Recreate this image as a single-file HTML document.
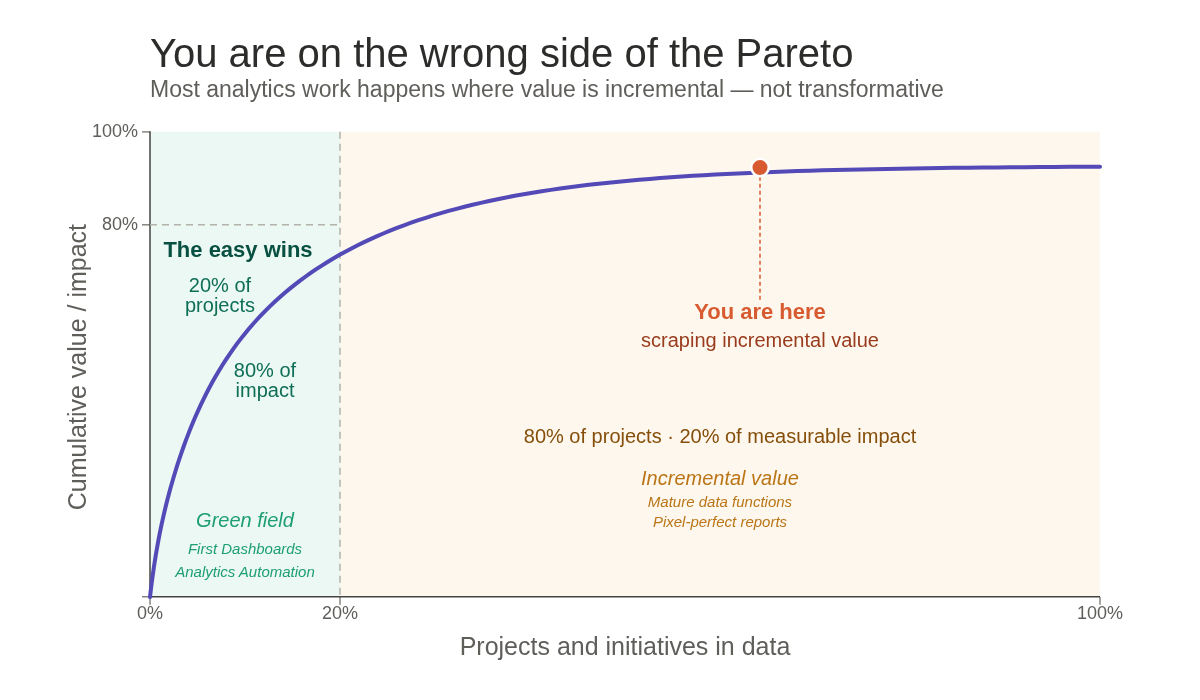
<!DOCTYPE html>
<html><head><meta charset="utf-8"><title>Pareto</title>
<style>
html,body{margin:0;padding:0;background:#fff;}
svg{display:block;font-family:"Liberation Sans",sans-serif;}
</style></head><body>
<svg width="1200" height="700" viewBox="0 0 1200 700">
<rect width="1200" height="700" fill="#ffffff"/>
<text x="150" y="67" font-size="40" fill="#2C2C2A">You are on the wrong side of the Pareto</text>
<text x="150" y="97" font-size="23" fill="#5F5E5A">Most analytics work happens where value is incremental — not transformative</text>
<rect x="150" y="131.75" width="190" height="465.25" fill="#ebf8f3"/>
<rect x="340" y="131.75" width="760" height="465.25" fill="#fef7ed"/>
<g stroke="#7d7c77" stroke-width="1.4" fill="none">
<line x1="142" y1="131.9" x2="150" y2="131.9"/>
<line x1="142" y1="224.8" x2="150" y2="224.8"/>
<line x1="142" y1="596.75" x2="150" y2="596.75"/>
<line x1="150" y1="597" x2="150" y2="604.7"/>
<line x1="340" y1="597" x2="340" y2="604.7"/>
<line x1="1100" y1="597" x2="1100" y2="604.7"/>
</g>
<line x1="150" y1="131.2" x2="150" y2="597.5" stroke="#444441" stroke-width="1.5"/>
<line x1="340" y1="131.75" x2="340" y2="596" stroke="#B4B2A9" stroke-width="1.5" stroke-dasharray="7 5"/>
<line x1="149.2" y1="596.75" x2="1100" y2="596.75" stroke="#444441" stroke-width="1.5"/>
<line x1="150" y1="224.8" x2="340" y2="224.8" stroke="#B4B2A9" stroke-width="1.5" stroke-dasharray="7 5"/>
<g font-size="18" fill="#5F5E5A">
<text x="138" y="137.3" text-anchor="end">100%</text>
<text x="138" y="230.3" text-anchor="end">80%</text>
<text x="150" y="618.5" text-anchor="middle">0%</text>
<text x="340" y="618.5" text-anchor="middle">20%</text>
<text x="1100" y="618.5" text-anchor="middle">100%</text>
</g>
<text x="625" y="655" font-size="25" fill="#5f5e5a" text-anchor="middle">Projects and initiatives in data</text>
<text transform="translate(85.9,367.1) rotate(-90)" font-size="25" fill="#5f5e5a" text-anchor="middle">Cumulative value / impact</text>
<path d="M150.00,597.00 L150.01,596.95 L150.03,596.73 L150.08,596.30 L150.16,595.60 L150.28,594.62 L150.43,593.33 L150.62,591.73 L150.85,589.80 L151.13,587.54 L151.45,584.96 L151.83,582.06 L152.25,578.86 L152.73,575.37 L153.26,571.60 L153.84,567.57 L154.49,563.31 L155.19,558.84 L155.95,554.18 L156.78,549.34 L157.67,544.35 L158.62,539.21 L159.64,533.96 L160.72,528.60 L161.87,523.14 L163.10,517.60 L164.39,511.97 L165.75,506.28 L167.19,500.52 L168.70,494.70 L170.28,488.83 L171.95,482.92 L173.68,476.96 L175.50,470.97 L177.39,464.94 L179.37,458.90 L181.42,452.83 L183.56,446.76 L185.77,440.69 L188.07,434.63 L190.46,428.58 L192.93,422.56 L195.49,416.56 L198.13,410.60 L200.86,404.69 L203.68,398.82 L206.58,393.01 L209.58,387.26 L212.67,381.58 L215.85,375.97 L219.12,370.43 L222.48,364.97 L225.94,359.58 L229.49,354.28 L233.14,349.06 L236.89,343.93 L240.73,338.88 L244.66,333.91 L248.70,329.03 L252.83,324.23 L257.06,319.53 L261.40,314.90 L265.83,310.36 L270.36,305.90 L275.00,301.53 L279.74,297.24 L284.58,293.03 L289.53,288.90 L294.58,284.85 L299.73,280.88 L304.99,276.99 L310.36,273.18 L315.83,269.45 L321.42,265.80 L327.11,262.22 L332.90,258.73 L338.81,255.30 L344.83,251.96 L350.96,248.69 L357.20,245.50 L363.55,242.39 L370.01,239.35 L376.58,236.39 L383.27,233.51 L390.07,230.70 L396.99,227.97 L404.02,225.31 L411.17,222.73 L418.43,220.23 L425.81,217.80 L433.31,215.44 L440.92,213.16 L448.65,210.95 L456.50,208.81 L464.47,206.75 L472.56,204.76 L480.77,202.83 L489.10,200.98 L497.55,199.19 L506.12,197.48 L514.82,195.82 L523.64,194.24 L532.58,192.71 L541.64,191.25 L550.83,189.86 L560.14,188.52 L569.58,187.24 L579.14,186.01 L588.83,184.84 L598.64,183.73 L608.58,182.67 L618.65,181.65 L628.85,180.69 L639.18,179.78 L649.63,178.91 L660.21,178.09 L670.93,177.30 L681.77,176.57 L692.74,175.87 L703.85,175.20 L715.08,174.58 L726.45,173.99 L737.95,173.43 L749.58,172.91 L761.35,172.42 L773.25,171.95 L785.28,171.52 L797.45,171.11 L809.75,170.73 L822.19,170.37 L834.76,170.03 L847.47,169.72 L860.32,169.43 L873.30,169.15 L886.42,168.90 L899.68,168.66 L913.08,168.44 L926.62,168.23 L940.29,168.04 L954.10,167.87 L968.06,167.70 L982.15,167.55 L996.39,167.41 L1010.76,167.28 L1025.28,167.16 L1039.94,167.05 L1054.74,166.94 L1069.68,166.85 L1084.77,166.76 L1100.00,166.68" fill="none" stroke="#534AB7" stroke-width="4" stroke-linecap="round" stroke-linejoin="round"/>
<line x1="760" y1="176.75" x2="760" y2="300" stroke="#D85A30" stroke-width="1.5" stroke-dasharray="4 3"/>
<circle cx="760" cy="167.5" r="8.75" fill="#D85A30" stroke="#ffffff" stroke-width="2.5"/>
<text x="238" y="257" font-size="22" font-weight="bold" fill="#085041" text-anchor="middle">The easy wins</text>
<g font-size="20" fill="#0F6E56" text-anchor="middle">
<text x="220" y="292">20% of</text>
<text x="220" y="312">projects</text>
<text x="265" y="377">80% of</text>
<text x="265" y="397">impact</text>
</g>
<g font-style="italic" fill="#1D9E75" text-anchor="middle">
<text x="245" y="527" font-size="20">Green field</text>
<text x="245" y="554" font-size="15">First Dashboards</text>
<text x="245" y="577" font-size="15">Analytics Automation</text>
</g>
<text x="760" y="319" font-size="22" font-weight="bold" fill="#D85A30" text-anchor="middle">You are here</text>
<text x="760" y="347" font-size="20" fill="#993C1D" text-anchor="middle">scraping incremental value</text>
<text x="720" y="443" font-size="20" fill="#854F0B" text-anchor="middle">80% of projects · 20% of measurable impact</text>
<g font-style="italic" fill="#BA7517" text-anchor="middle">
<text x="720" y="485" font-size="20">Incremental value</text>
<text x="720" y="507" font-size="15">Mature data functions</text>
<text x="720" y="527" font-size="15">Pixel-perfect reports</text>
</g>
</svg>
</body></html>
